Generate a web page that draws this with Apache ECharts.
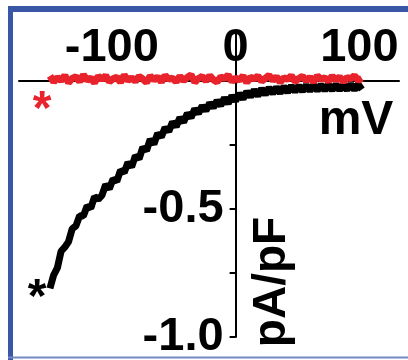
<!DOCTYPE html>
<html>
<head>
<meta charset="utf-8">
<script src="https://cdn.jsdelivr.net/npm/echarts@6/dist/echarts.min.js"></script>
<style>
  html, body { margin: 0; padding: 0; background: #fff; }
  #chart { width: 408px; height: 360px; }
</style>
</head>
<body>
<div id="chart"></div>
<script>
// membrane voltage (mV) for each sample of the ramp
const voltage = [
  -150, -147, -144, -141, -138, -135, -132, -129, -126, -123,
  -120, -117, -114, -111, -108, -105, -102, -99, -96, -93,
  -90, -87, -84, -81, -78, -75, -72, -69, -66, -63,
  -60, -57, -54, -51, -48, -45, -42, -39, -36, -33,
  -30, -27, -24, -21, -18, -15, -12, -9, -6, -3,
  0, 3, 6, 9, 12, 15, 18, 21, 24, 27,
  30, 33, 36, 39, 42, 45, 48, 51, 54, 57,
  60, 63, 66, 69, 72, 75, 78, 81, 84, 87,
  90, 93, 96, 99, 102
];

// current density (pA/pF), black trace (noisy)
const currentBlack = [
  -0.810, -0.758, -0.730, -0.665, -0.649, -0.628, -0.577, -0.566, -0.526, -0.527,
  -0.488, -0.497, -0.452, -0.462, -0.447, -0.405, -0.421, -0.383, -0.392, -0.349,
  -0.358, -0.318, -0.336, -0.292, -0.304, -0.259, -0.272, -0.228, -0.246, -0.205,
  -0.219, -0.182, -0.197, -0.160, -0.178, -0.143, -0.161, -0.126, -0.143, -0.109,
  -0.127, -0.097, -0.116, -0.086, -0.104, -0.077, -0.096, -0.066, -0.088, -0.058,
  -0.078, -0.049, -0.070, -0.041, -0.062, -0.035, -0.058, -0.030, -0.053, -0.026,
  -0.049, -0.024, -0.047, -0.021, -0.044, -0.019, -0.042, -0.018, -0.040, -0.016,
  -0.039, -0.015, -0.038, -0.014, -0.037, -0.014, -0.036, -0.013, -0.035, -0.013,
  -0.035, -0.012, -0.034, -0.013, -0.033
];

// current density (pA/pF), red trace (noisy, near zero)
const currentRed = [
  0.020, -0.004, 0.014, 0.001, 0.022, -0.006, 0.010, 0.017, -0.002, 0.024,
  0.003, 0.012, -0.007, 0.019, 0.006, 0.021, -0.003, 0.009, 0.015, -0.005,
  0.023, 0.002, 0.013, -0.001, 0.018, 0.008, -0.006, 0.020, 0.004, 0.016,
  -0.004, 0.022, 0.007, 0.011, -0.003, 0.019, 0.001, 0.014, 0.024, -0.005,
  0.010, 0.018, 0.000, 0.021, 0.005, -0.004, 0.016, 0.009, 0.023, -0.002,
  0.012, 0.003, 0.020, -0.006, 0.015, 0.008, 0.019, -0.001, 0.011, 0.022,
  0.002, 0.017, -0.005, 0.013, 0.006, 0.021, -0.002, 0.010, 0.018, 0.001,
  0.015, -0.004, 0.020, 0.007, 0.012, -0.001, 0.019, 0.004, 0.016, -0.003,
  0.013, 0.009, 0.021, 0.002, 0.011
];

const xTickLabels = [-100, 0, 100];
const yTickLabels = [-0.5, -1.0];

const FONT = '"Liberation Sans", Arial, sans-serif';
const BLUE = '#3a57a7';

// grid box in px; axes are shifted inward so they cross at (0 mV, 0 pA/pF)
const GRID = { left: 19, right: 9, top: 33, bottom: 23 };
const X_MIN = -175, X_MAX = 132, Y_MIN = -1, Y_MAX = 0.1875;
const plotW = 408 - GRID.left - GRID.right;
const plotH = 360 - GRID.top - GRID.bottom;
const yAxisShift = (0 - X_MIN) / (X_MAX - X_MIN) * plotW;
const xAxisShift = (Y_MAX - 0) / (Y_MAX - Y_MIN) * plotH;

const chart = echarts.init(document.getElementById('chart'));

chart.setOption({
  animation: false,
  backgroundColor: '#fff',
  grid: { ...GRID, containLabel: false, outerBoundsMode: 'none' },
  xAxis: {
    type: 'value',
    position: 'top',
    offset: -xAxisShift,
    min: X_MIN,
    max: X_MAX,
    interval: 25,
    splitLine: { show: false },
    axisLine: { onZero: false, lineStyle: { color: '#000', width: 2 } },
    axisTick: { show: false },
    axisLabel: {
      margin: 9,
      color: '#000',
      fontFamily: FONT,
      fontWeight: 'bold',
      fontSize: 47,
      formatter: v => xTickLabels.includes(v) ? String(v) : ''
    }
  },
  yAxis: {
    type: 'value',
    position: 'left',
    offset: -yAxisShift,
    min: Y_MIN,
    max: Y_MAX,
    interval: 0.25,
    splitLine: { show: false },
    axisLine: { onZero: false, lineStyle: { color: '#000', width: 2 } },
    axisTick: { length: 6, lineStyle: { color: '#000', width: 2 } },
    axisLabel: {
      margin: 12,
      color: '#000',
      fontFamily: FONT,
      fontWeight: 'bold',
      fontSize: 47,
      formatter: v => {
        const hit = yTickLabels.find(t => Math.abs(t - v) < 1e-6);
        return hit === undefined ? '' : hit.toFixed(1);
      }
    }
  },
  series: [
    {
      name: 'black',
      type: 'line',
      data: voltage.map((v, i) => [v, currentBlack[i]]),
      showSymbol: false,
      lineStyle: { color: '#000', width: 7 },
      z: 3
    },
    {
      name: 'red',
      type: 'line',
      data: voltage.map((v, i) => [v, currentRed[i]]),
      showSymbol: false,
      lineStyle: { color: '#e8232b', width: 7 },
      z: 4
    }
  ],
  graphic: [
    // frame
    { type: 'line', shape: { x1: 8, y1: 9, x2: 408, y2: 9 }, style: { stroke: BLUE, lineWidth: 6 } },
    { type: 'line', shape: { x1: 10.5, y1: 6, x2: 10.5, y2: 360 }, style: { stroke: BLUE, lineWidth: 5 } },
    { type: 'line', shape: { x1: 8, y1: 357.5, x2: 408, y2: 357.5 }, style: { stroke: '#7188c4', lineWidth: 2 } },
    // axis names
    { type: 'text', x: 356, y: 121, style: { text: 'mV', font: 'bold 48px ' + FONT, fill: '#000', align: 'center', verticalAlign: 'middle' } },
    { type: 'text', x: 272, y: 282, rotation: Math.PI / 2, style: { text: 'pA/pF', font: 'bold 46px ' + FONT, fill: '#000', align: 'center', verticalAlign: 'middle' } },
    // asterisks
    { type: 'text', x: 42, y: 111, style: { text: '*', font: 'bold 48px ' + FONT, fill: '#e8232b', align: 'center', verticalAlign: 'middle' } },
    { type: 'text', x: 37, y: 299, style: { text: '*', font: 'bold 48px ' + FONT, fill: '#000', align: 'center', verticalAlign: 'middle' } }
  ]
});
</script>
</body>
</html>
